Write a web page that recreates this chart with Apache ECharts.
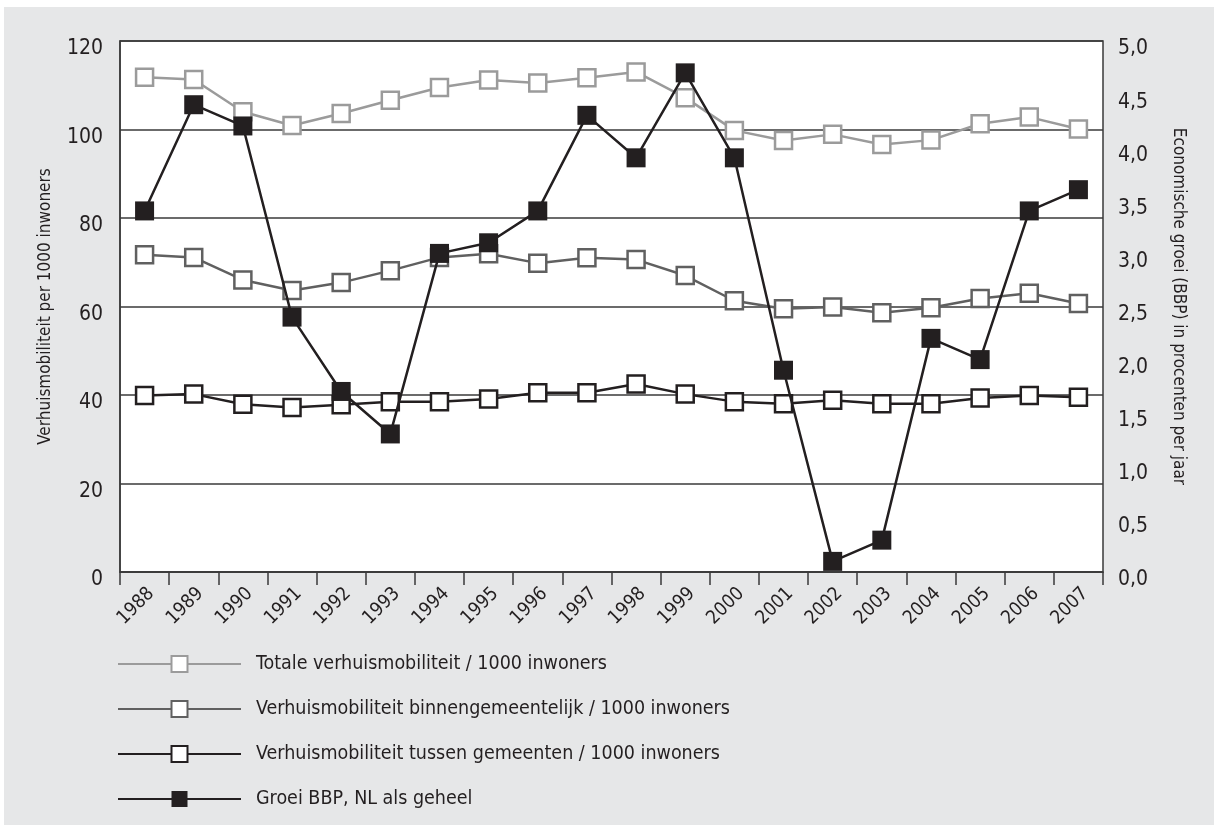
<!DOCTYPE html>
<html>
<head>
<meta charset="utf-8">
<script src="https://cdn.jsdelivr.net/npm/echarts@6/dist/echarts.min.js"></script>
<style>
  html, body { margin: 0; padding: 0; background: #ffffff; }
  #chart { position: absolute; left: 4px; top: 7px; width: 1210px; height: 818px; background: #e6e7e8; }
</style>
</head>
<body>
<div id="chart"></div>
<script>
const years = ['1988','1989','1990','1991','1992','1993','1994','1995','1996','1997',
               '1998','1999','2000','2001','2002','2003','2004','2005','2006','2007'];
const totaal = [111.8,111.3,104.0,100.9,103.6,106.6,109.5,111.2,110.5,111.7,
                113.0,107.2,99.8,97.5,98.9,96.6,97.6,101.3,102.8,100.1];
const binnen = [71.7,71.1,66.0,63.6,65.4,68.1,71.1,71.9,69.8,71.0,
                70.6,67.0,61.3,59.5,59.9,58.6,59.7,61.8,63.0,60.7];
const tussen = [39.9,40.2,37.9,37.2,37.8,38.5,38.5,39.1,40.5,40.5,
                42.5,40.2,38.5,38.0,38.8,38.0,38.0,39.3,39.9,39.5];
const bbp = [3.4,4.4,4.2,2.4,1.7,1.3,3.0,3.1,3.4,4.3,
             3.9,4.7,3.9,1.9,0.1,0.3,2.2,2.0,3.4,3.6];
const names = ['Totale verhuismobiliteit / 1000 inwoners',
               'Verhuismobiliteit binnengemeentelijk / 1000 inwoners',
               'Verhuismobiliteit tussen gemeenten / 1000 inwoners',
               'Groei BBP, NL als geheel'];
const leftTitle = 'Verhuismobiliteit per 1000 inwoners';
const rightTitle = 'Economische groei (BBP) in procenten per jaar';

const FONT = "'Liberation Sans Narrow', 'DejaVu Sans Condensed', 'Liberation Sans', sans-serif";
const TXT = '#231f20';

const chart = echarts.init(document.getElementById('chart'), null, {renderer: 'canvas'});

function openSeries(name, data, color) {
  return {
    name: name, type: 'line', data: data, yAxisIndex: 0,
    symbol: 'rect', symbolSize: 17,
    lineStyle: {color: color, width: 2.5},
    itemStyle: {color: '#ffffff', borderColor: color, borderWidth: 2.5},
    emphasis: {disabled: true}, animation: false
  };
}

chart.setOption({
  animation: false,
  textStyle: {fontFamily: FONT, color: TXT},
  grid: {left: 116, top: 34, right: 111, bottom: 253, show: true,
         backgroundColor: '#ffffff', borderColor: '#3a3a3a', borderWidth: 1.5, containLabel: false},
  legend: {
    orient: 'vertical', left: 108, top: 642, itemWidth: 123, itemHeight: 20, itemGap: 25,
    textStyle: {fontFamily: FONT, fontSize: 19.5, color: TXT, padding: [0, 0, 0, 10]},
    data: names
  },
  xAxis: {
    type: 'category', data: years, boundaryGap: true,
    axisLine: {show: true, lineStyle: {color: '#3a3a3a', width: 1.5}},
    axisTick: {show: true, length: 13, lineStyle: {color: '#3a3a3a', width: 1.5}},
    axisLabel: {rotate: 45, fontSize: 19, color: TXT, fontFamily: FONT, margin: 12, interval: 0,
                verticalAlign: 'top'},
    splitLine: {show: false}
  },
  yAxis: [
    {
      type: 'value', min: 0, max: 120, interval: 20, position: 'left',
      name: leftTitle, nameLocation: 'middle', nameRotate: 90, nameGap: 66,
      nameTextStyle: {fontFamily: FONT, fontSize: 17, color: TXT},
      axisLine: {show: true, lineStyle: {color: '#3a3a3a', width: 1.5}},
      axisTick: {show: false},
      axisLabel: {fontSize: 21, color: TXT, fontFamily: FONT, margin: 17,
                  verticalAlign: 'top', lineHeight: 16},
      splitLine: {show: true, lineStyle: {color: '#3a3a3a', width: 1.5}}
    },
    {
      type: 'value', min: 0, max: 5, interval: 0.5, position: 'right',
      name: rightTitle, nameLocation: 'middle', nameRotate: -90, nameGap: 67,
      nameTextStyle: {fontFamily: FONT, fontSize: 17, color: TXT},
      axisLine: {show: false}, axisTick: {show: false},
      axisLabel: {fontSize: 21, color: TXT, fontFamily: FONT, margin: 15,
                  verticalAlign: 'top', lineHeight: 16,
                  formatter: v => v.toFixed(1).replace('.', ',')},
      splitLine: {show: false}
    }
  ],
  series: [
    openSeries(names[0], totaal, '#9b9b9b'),
    openSeries(names[1], binnen, '#606060'),
    openSeries(names[2], tussen, '#231f20'),
    {
      name: names[3], type: 'line', data: bbp, yAxisIndex: 1,
      symbol: 'rect', symbolSize: 19,
      lineStyle: {color: '#231f20', width: 2.5},
      itemStyle: {color: '#231f20', borderColor: '#231f20', borderWidth: 0},
      emphasis: {disabled: true}, animation: false, z: 5
    }
  ]
});
</script>
</body>
</html>
